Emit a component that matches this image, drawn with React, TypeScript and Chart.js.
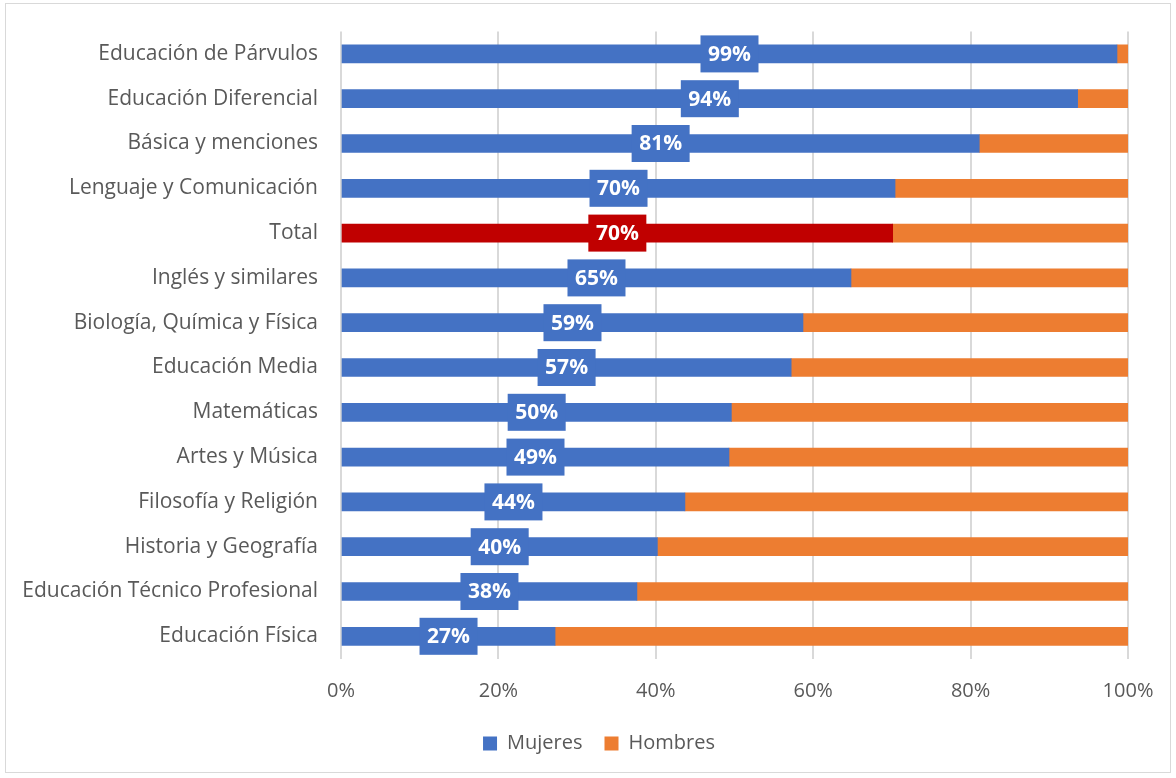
import React, { useEffect, useRef } from "react";
import { Chart, registerables } from "chart.js";

Chart.register(...registerables);

const categories = [
  "Educación de Párvulos",
  "Educación Diferencial",
  "Básica y menciones",
  "Lenguaje y Comunicación",
  "Total",
  "Inglés y similares",
  "Biología, Química y Física",
  "Educación Media",
  "Matemáticas",
  "Artes y Música",
  "Filosofía y Religión",
  "Historia y Geografía",
  "Educación Técnico Profesional",
  "Educación Física",
];

const mujeres = [98.6, 93.6, 81.1, 70.4, 70.1, 64.8, 58.7, 57.2, 49.6, 49.3, 43.7, 40.2, 37.6, 27.2];
const hombres = [1.4, 6.4, 18.9, 29.6, 29.9, 35.2, 41.3, 42.8, 50.4, 50.7, 56.3, 59.8, 62.4, 72.8];
const xTicks = [0, 20, 40, 60, 80, 100];

const BLUE = "#4472C4";
const ORANGE = "#ED7D31";
const RED = "#C00000";
const FONT = "'Open Sans', 'Noto Sans', sans-serif";

const mujeresColors = categories.map((c) => (c === "Total" ? RED : BLUE));

const labelPlugin = {
  id: "boxLabels",
  afterDatasetsDraw(chart: any) {
    const ctx = chart.ctx;
    const meta = chart.getDatasetMeta(0);
    ctx.save();
    ctx.font = `bold 21px ${FONT}`;
    ctx.textAlign = "center";
    ctx.textBaseline = "middle";
    meta.data.forEach((el: any, i: number) => {
      const v = mujeres[i];
      const text = `${Math.round(v)}%`;
      const cx = (el.x + el.base) / 2;
      const cy = el.y;
      const w = 58;
      const h = 37;
      ctx.fillStyle = mujeresColors[i];
      ctx.fillRect(cx - w / 2, cy - h / 2, w, h);
      ctx.fillStyle = "#FFFFFF";
      ctx.fillText(text, cx, cy + 1);
    });
    ctx.restore();
  },
};

const legendShift = {
  id: "legendShift",
  afterLayout(chart: any) {
    if (chart.legend) {
      chart.legend.left += 32;
      chart.legend.right += 32;
    }
  },
};

export default function App() {
  const ref = useRef<HTMLCanvasElement | null>(null);

  useEffect(() => {
    if (!ref.current) return;
    document.body.style.overflow = "hidden";
    const chart = new Chart(ref.current, {
      type: "bar",
      data: {
        labels: categories,
        datasets: [
          {
            label: "Mujeres",
            data: mujeres,
            backgroundColor: mujeresColors,
            borderWidth: 0,
            barThickness: 18,
          },
          {
            label: "Hombres",
            data: hombres,
            backgroundColor: ORANGE,
            borderWidth: 0,
            barThickness: 18,
          },
        ],
      },
      options: {
        indexAxis: "y",
        animation: false,
        responsive: true,
        maintainAspectRatio: false,
        layout: { padding: { left: 0, right: 42, top: 31.5, bottom: 11.5 } },
        scales: {
          x: {
            stacked: true,
            min: 0,
            max: 100,
            afterBuildTicks(scale: any) {
              scale.ticks = xTicks.map((v) => ({ value: v }));
            },
            afterFit(scale: any) {
              scale.height = 52.8;
              scale.paddingRight = 0;
              scale.paddingLeft = 0;
            },
            ticks: {
              callback: (v: any) => `${v}%`,
              color: "#595959",
              font: { family: FONT, size: 20 },
              padding: 21,
            },
            grid: { color: "#D9D9D9", lineWidth: 2, drawTicks: false },
            border: { display: false },
          },
          y: {
            stacked: true,
            afterFit(scale: any) {
              scale.width = 335;
            },
            ticks: {
              color: "#595959",
              font: { family: FONT, size: 21 },
              padding: 15,
              autoSkip: false,
            },
            grid: { display: false },
            border: { display: false },
          },
        },
        plugins: {
          legend: {
            position: "bottom",
            labels: {
              color: "#595959",
              font: { family: FONT, size: 20 },
              boxWidth: 14,
              boxHeight: 14,
              padding: 22,
            },
          },
          tooltip: { enabled: false },
        },
      },
      plugins: [labelPlugin, legendShift],
    });
    return () => chart.destroy();
  }, []);

  return (
    <div>
      <div
        style={{
          position: "absolute",
          left: 6,
          top: 0,
          width: 1164,
          height: 775,
        }}
      >
        <canvas ref={ref} />
      </div>
      <div
        style={{
          position: "absolute",
          left: 5,
          top: 3,
          width: 1164,
          height: 768,
          border: "1px solid #D9D9D9",
          pointerEvents: "none",
        }}
      />
    </div>
  );
}
